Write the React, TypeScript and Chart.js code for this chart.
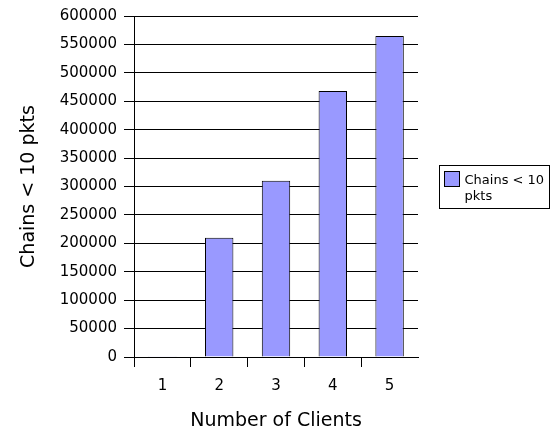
import React, { useEffect, useRef } from "react";
import { Chart, registerables } from "chart.js";

Chart.register(...registerables);

// ---- data ----
const categories: string[] = ["1", "2", "3", "4", "5"];
const seriesLabel = "Chains < 10 pkts";
const seriesValues: number[] = [1500, 210000, 310000, 468000, 565000];
const legendLines: string[] = ["Chains < 10", "pkts"];
const xAxisTitle = "Number of Clients";
const yAxisTitle = "Chains < 10 pkts";
const yMin = 0;
const yMax = 600000;
const yStep = 50000;

const FONT = "'DejaVu Sans', Verdana, sans-serif";
const BAR_FILL = "#9999ff";

const legendPlugin = {
  id: "boxedLegend",
  afterDraw(chart: any) {
    const { ctx, chartArea } = chart;
    ctx.save();
    ctx.font = `13px ${FONT}`;
    const maxW = Math.max(...legendLines.map((l) => ctx.measureText(l).width));
    const boxW = Math.round(25 + maxW + 5);
    const boxH = 43;
    const left = Math.round(chartArea.right + 21) + 0.5;
    const top = Math.round((chartArea.top + chartArea.bottom) / 2 - boxH / 2) + 0.5;
    ctx.fillStyle = "#ffffff";
    ctx.fillRect(left, top, boxW, boxH);
    ctx.strokeStyle = "#000000";
    ctx.lineWidth = 1;
    ctx.strokeRect(left, top, boxW, boxH);
    // swatch
    ctx.fillStyle = BAR_FILL;
    ctx.fillRect(left + 5, top + 6, 15, 15);
    ctx.strokeRect(left + 5, top + 6, 15, 15);
    // text
    ctx.fillStyle = "#000000";
    ctx.textAlign = "left";
    ctx.textBaseline = "alphabetic";
    legendLines.forEach((line, i) => {
      ctx.fillText(line, left + 25, top + 18.5 + i * 16);
    });
    ctx.restore();
  },
};

export default function App() {
  const canvasRef = useRef<HTMLCanvasElement | null>(null);

  useEffect(() => {
    if (!canvasRef.current) return;
    const chart = new Chart(canvasRef.current, {
      type: "bar",
      data: {
        labels: categories,
        datasets: [
          {
            label: seriesLabel,
            data: seriesValues,
            backgroundColor: BAR_FILL,
            borderColor: "#000000",
            borderWidth: 1,
            barPercentage: 0.5,
            categoryPercentage: 1,
          },
        ],
      },
      options: {
        responsive: false,
        animation: false,
        devicePixelRatio: 1,
        layout: { padding: { left: 0, top: 14, right: 135, bottom: 0 } },
        plugins: {
          legend: { display: false },
          tooltip: { enabled: false },
        },
        scales: {
          x: {
            grid: {
              display: true,
              drawOnChartArea: false,
              drawTicks: true,
              tickLength: 10,
              color: (c: any) => (c && c.tick ? "#000000" : "rgba(0,0,0,0)"),
              offset: true,
            },
            border: { display: true, color: "#000000", width: 1 },
            ticks: {
              color: "#000000",
              font: { family: FONT, size: 15 },
              padding: 10,
            },
            title: {
              display: true,
              text: xAxisTitle,
              color: "#000000",
              font: { family: FONT, size: 19 },
              padding: { top: 0, bottom: 2 },
            },
            afterFit(scale: any) {
              scale.height = 77;
            },
          },
          y: {
            min: yMin,
            max: yMax,
            grid: {
              display: true,
              drawOnChartArea: true,
              drawTicks: true,
              tickLength: 10,
              color: "#000000",
            },
            border: { display: true, color: "#000000", width: 1 },
            ticks: {
              stepSize: yStep,
              color: "#000000",
              font: { family: FONT, size: 15 },
              padding: 7,
              callback: (v: any) => String(v),
            },
            title: {
              display: true,
              text: yAxisTitle,
              color: "#000000",
              font: { family: FONT, size: 19 },
              padding: { top: 17.5, bottom: 0 },
            },
            afterFit(scale: any) {
              scale.width = 134;
            },
          },
        },
      },
      plugins: [legendPlugin],
    });
    return () => chart.destroy();
  }, []);

  return (
    <div style={{ position: "fixed", left: 0, top: 0, width: 553, height: 434, background: "#ffffff" }}>
      <canvas ref={canvasRef} width={553} height={434} style={{ display: "block" }} />
    </div>
  );
}
